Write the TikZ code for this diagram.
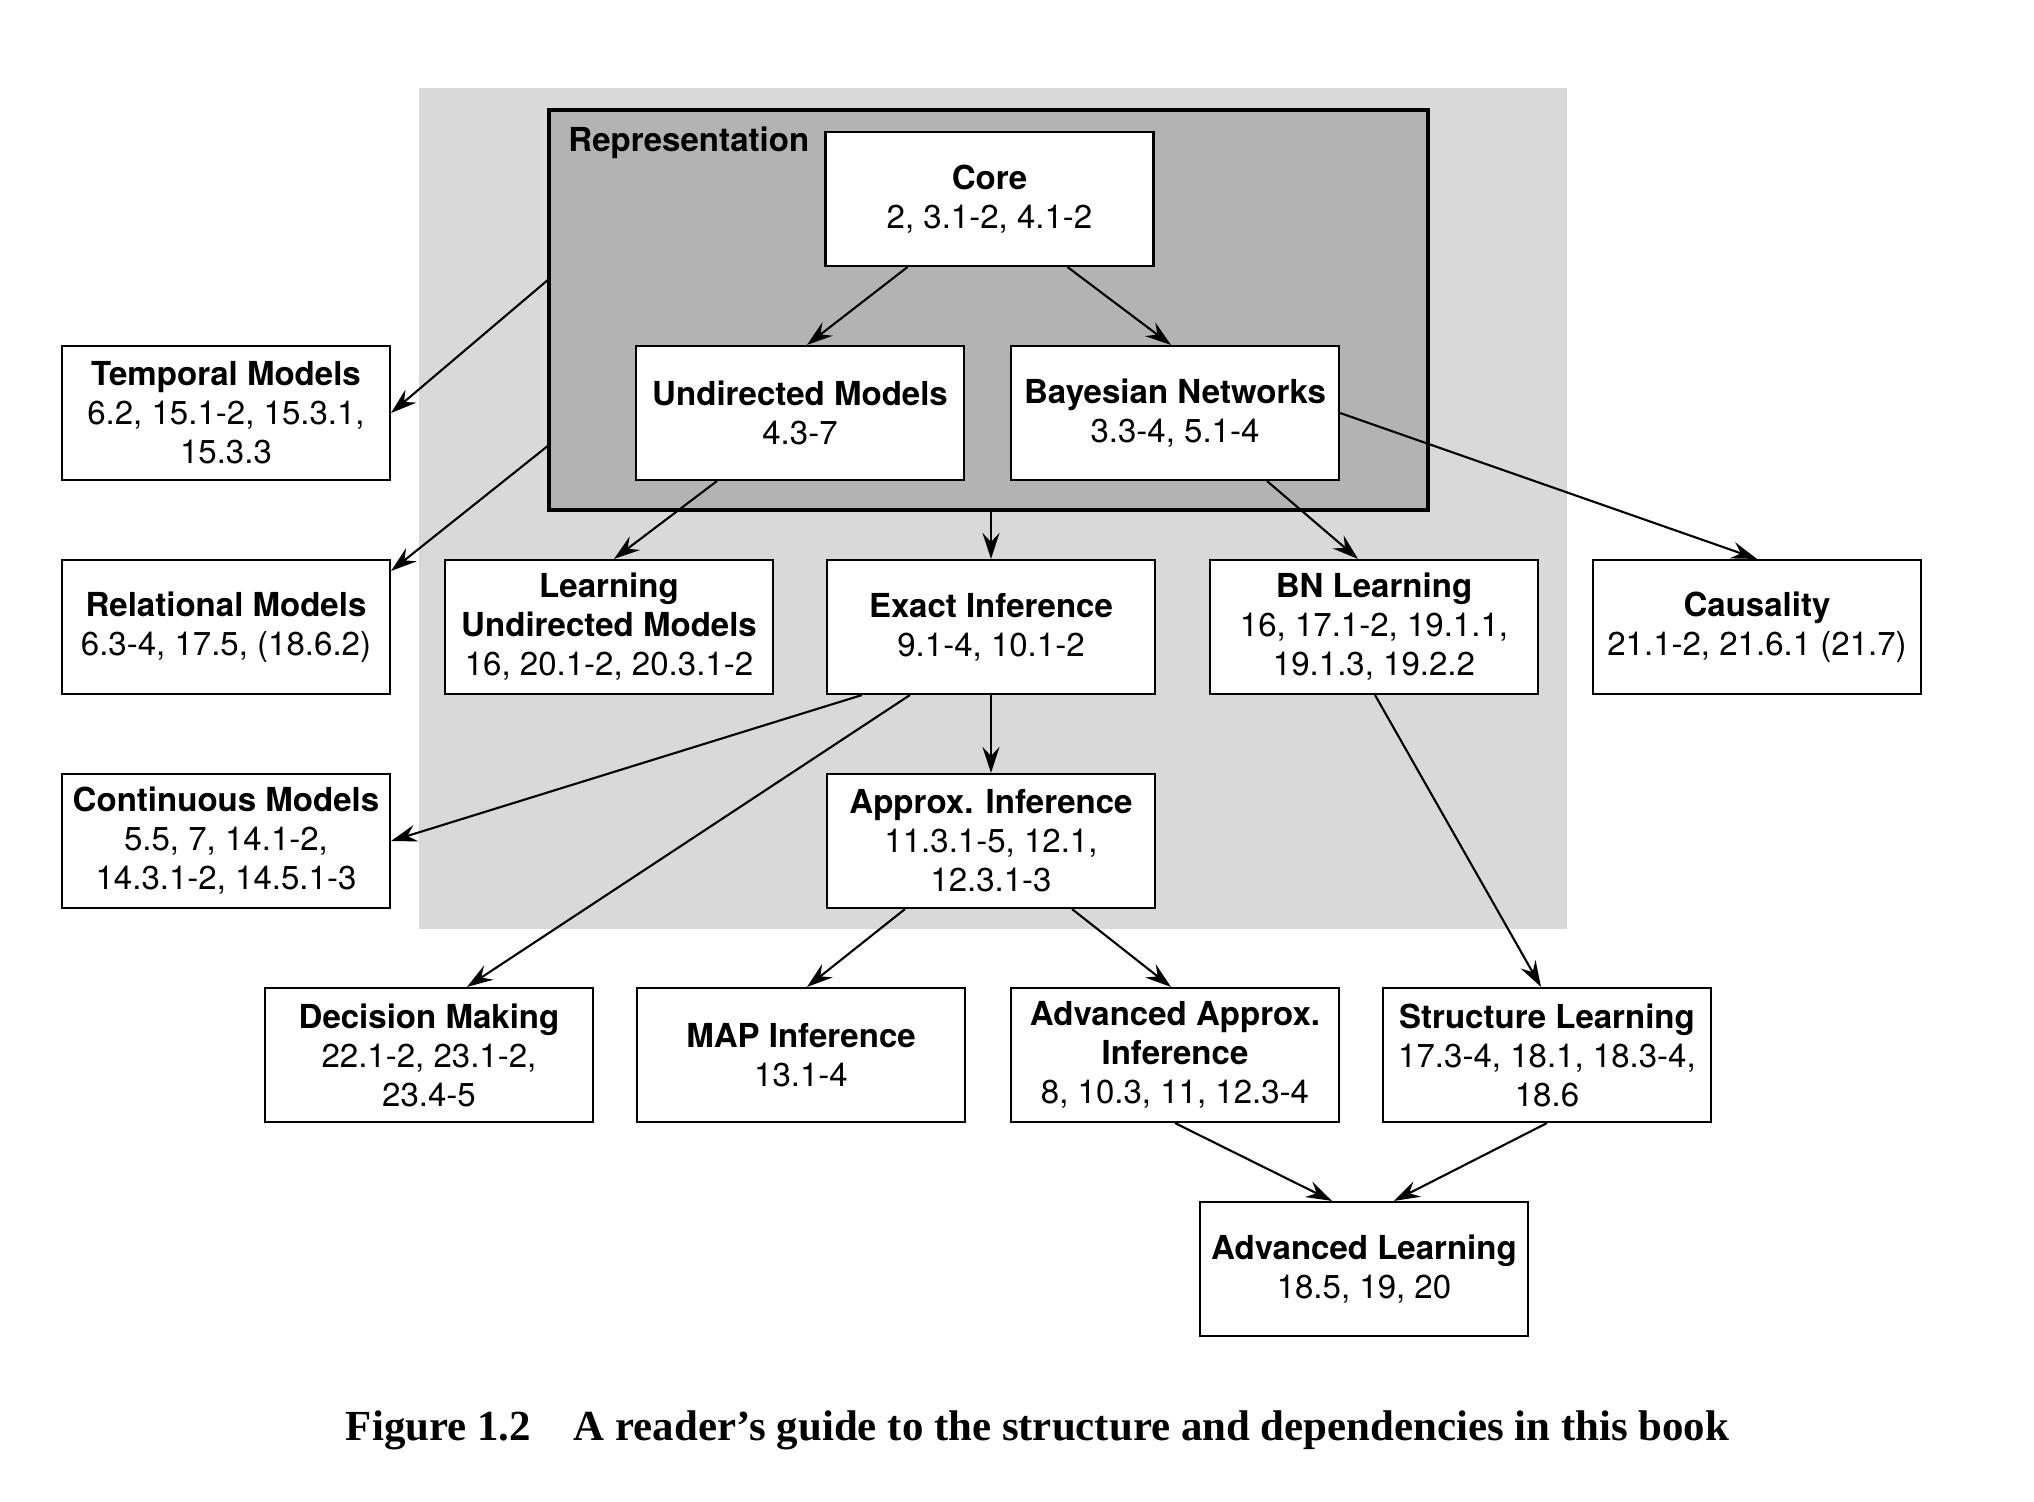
\documentclass[tikz,border=0pt]{standalone}
\usepackage{fontspec}
\setmainfont{TeX Gyre Heros}
\newfontfamily\capfont{Liberation Serif}
\usetikzlibrary{arrows.meta}
\definecolor{lightgray}{RGB}{217,217,217}
\definecolor{darkgray}{RGB}{179,179,179}
\begin{document}
\begin{tikzpicture}[
    every node/.style={
        font=\fontsize{9.4}{11.1}\selectfont
    },
    topic/.style={
        rectangle,
        draw,
        fill=white,
        line width=0.6pt,
        minimum width=3.28cm,
        minimum height=1.34cm,
        inner sep=0pt,
        align=center
    },
    >={Stealth[length=2.6mm, width=1.7mm, inset=0.9mm]}
]
\useasboundingbox (0,0) rectangle (20.34,-15.02);

% 배경
\fill[lightgray] (4.19,-0.88) rectangle (15.67,-9.29);
\draw[fill=darkgray, line width=0.9pt] (5.49,-1.10) rectangle (14.28,-5.10);
\node[anchor=west] (replabel) at (5.56,-1.43) {\textbf{Representation}};

% 노드
\node[topic] (core) at (9.895,-1.99) {\textbf{Core}\\2, 3.1-2, 4.1-2};
\node[topic] (undir) at (8.00,-4.13) {\textbf{Undirected Models}\\4.3-7};
\node[topic] (bn) at (11.75,-4.13) {\textbf{Bayesian Networks}\\3.3-4, 5.1-4};

\node[topic] (temporal) at (2.26,-4.13) {\textbf{Temporal Models}\\6.2, 15.1-2, 15.3.1,\\15.3.3};
\node[topic] (relational) at (2.26,-6.27) {\textbf{Relational Models}\\6.3-4, 17.5, (18.6.2)};
\node[topic] (learnum) at (6.09,-6.27) {\textbf{Learning}\\\textbf{Undirected Models}\\16, 20.1-2, 20.3.1-2};
\node[topic] (exact) at (9.91,-6.27) {\textbf{Exact Inference}\\9.1-4, 10.1-2};
\node[topic] (bnlearn) at (13.74,-6.27) {\textbf{BN Learning}\\16, 17.1-2, 19.1.1,\\19.1.3, 19.2.2};
\node[topic] (causality) at (17.57,-6.27) {\textbf{Causality}\\21.1-2, 21.6.1 (21.7)};

\node[topic] (continuous) at (2.26,-8.41) {\textbf{Continuous Models}\\5.5, 7, 14.1-2,\\14.3.1-2, 14.5.1-3};
\node[topic] (approx) at (9.91,-8.41) {\textbf{Approx. Inference}\\11.3.1-5, 12.1,\\12.3.1-3};

\node[topic] (decision) at (4.29,-10.55) {\textbf{Decision Making}\\22.1-2, 23.1-2,\\23.4-5};
\node[topic] (map) at (8.01,-10.55) {\textbf{MAP Inference}\\13.1-4};
\node[topic] (advapprox) at (11.75,-10.55) {\textbf{Advanced Approx.}\\\textbf{Inference}\\8, 10.3, 11, 12.3-4};
\node[topic] (structure) at (15.47,-10.55) {\textbf{Structure Learning}\\17.3-4, 18.1, 18.3-4,\\18.6};

\node[topic] (advlearn) at (13.64,-12.69) {\textbf{Advanced Learning}\\18.5, 19, 20};

\node (caption) at (10.375,-14.30) {\capfont\fontsize{12.2}{14}\selectfont\textbf{Figure 1.2\quad A reader’s guide to the structure and dependencies in this book}};

% 간선
\draw[->, line width=0.6pt] ([xshift=-0.82cm]core.south) -- ([xshift=0.07cm]undir.north);
\draw[->, line width=0.6pt] ([xshift=0.78cm]core.south) -- ([xshift=-0.04cm]bn.north);

\draw[->, line width=0.6pt] (5.49,-2.79) -- (temporal.east);
\draw[->, line width=0.6pt] (5.49,-4.45) -- ([yshift=-0.12cm]relational.north east);
\draw[->, line width=0.6pt] ([xshift=-0.83cm]undir.south) -- ([xshift=0.05cm]learnum.north);
\draw[->, line width=0.6pt] (exact.north |- 0,-5.10) -- (exact.north);
\draw[->, line width=0.6pt] ([xshift=0.92cm]bn.south) -- ([xshift=-0.16cm]bnlearn.north);
\draw[->, line width=0.6pt] (bn.east) -- (causality.north);

\draw[->, line width=0.6pt] ([xshift=0.36cm]exact.south west) -- (continuous.east);
\draw[->, line width=0.6pt] ([xshift=0.84cm]exact.south west) -- ([xshift=0.38cm]decision.north);
\draw[->, line width=0.6pt] (exact.south) -- (approx.north);

\draw[->, line width=0.6pt] ([xshift=-0.86cm]approx.south) -- ([xshift=0.06cm]map.north);
\draw[->, line width=0.6pt] ([xshift=0.81cm]approx.south) -- ([xshift=-0.04cm]advapprox.north);
\draw[->, line width=0.6pt] ([xshift=0.01cm]bnlearn.south) -- ([xshift=-0.06cm]structure.north);

\draw[->, line width=0.6pt] (advapprox.south) -- ([xshift=-0.32cm]advlearn.north);
\draw[->, line width=0.6pt] (structure.south) -- ([xshift=0.30cm]advlearn.north);

\end{tikzpicture}
\end{document}
